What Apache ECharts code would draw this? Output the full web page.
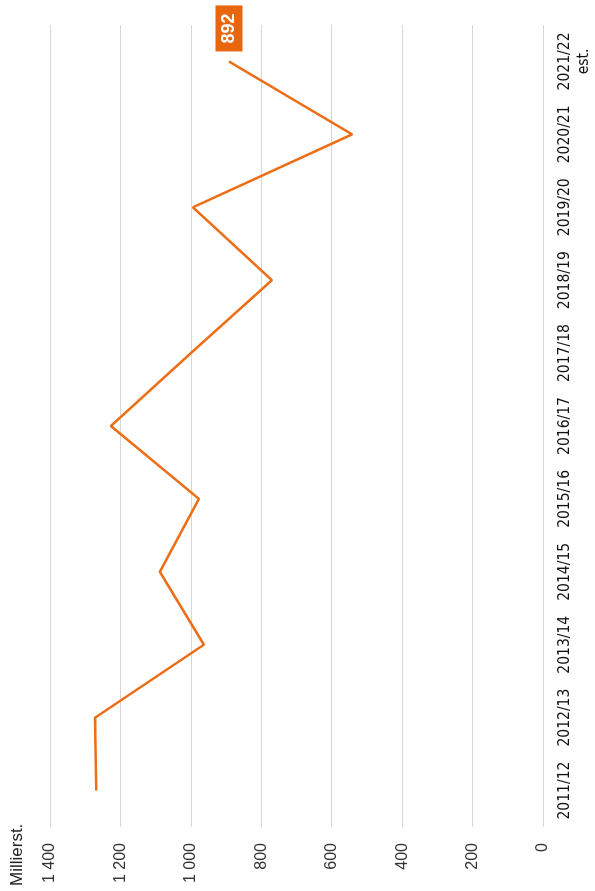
<!DOCTYPE html>
<html>
<head>
<meta charset="utf-8">
<script src="https://cdn.jsdelivr.net/npm/echarts@6/dist/echarts.min.js"></script>
<style>
html,body{margin:0;padding:0;width:595px;height:891px;overflow:hidden;background:#fff;}
#chart{position:absolute;left:0;top:0;width:891px;height:595px;transform-origin:0 0;transform:translateY(891px) rotate(-90deg);}
</style>
</head>
<body>
<div id="chart"></div>
<script>
const categories = ['2011/12','2012/13','2013/14','2014/15','2015/16','2016/17','2017/18','2018/19','2019/20','2020/21','2021/22\nest.'];
const values = [1269, 1272, 963, 1088, 977, 1227, 1000, 770, 994, 542, 892];
const valueTicks = [0, 200, 400, 600, 800, 1000, 1200, 1400];
const unitLabel = 'Millierst.';

const chart = echarts.init(document.getElementById('chart'), null, {renderer: 'canvas'});
const last = values.length - 1;
chart.setOption({
  animation: false,
  grid: {left: 64, right: 25, top: 50, bottom: 52},
  graphic: [{
    type: 'text', left: 5, top: 9,
    style: {text: unitLabel, font: '17px "Liberation Sans", Arial, sans-serif', fill: '#222'}
  }],
  xAxis: {
    type: 'category',
    data: categories,
    boundaryGap: true,
    axisLine: {show: false},
    axisTick: {show: false},
    axisLabel: {
      margin: 12, color: '#111', fontSize: 15.5, lineHeight: 19,
      fontFamily: '"DejaVu Sans Condensed", sans-serif',
      interval: 0
    }
  },
  yAxis: {
    type: 'value',
    min: valueTicks[0], max: valueTicks[valueTicks.length - 1], interval: 200,
    axisLine: {show: false},
    axisTick: {show: false},
    splitLine: {lineStyle: {color: '#d6d6d6', width: 1}},
    axisLabel: {
      margin: 16, color: '#333', fontSize: 16,
      fontFamily: '"Liberation Sans", Arial, sans-serif',
      formatter: v => String(v).replace(/\B(?=(\d{3})+(?!\d))/g, ' ')
    }
  },
  series: [{
    type: 'line',
    data: values.map((v, i) => i === last ? {
      value: v,
      label: {
        show: true, position: 'right', distance: 10,
        backgroundColor: '#E8670E', color: '#fff', fontWeight: 'bold', fontSize: 18,
        fontFamily: '"Liberation Sans", Arial, sans-serif',
        padding: [5, 8, 4, 8]
      }
    } : v),
    showSymbol: true,
    symbol: 'circle',
    symbolSize: 0,
    label: {show: false},
    lineStyle: {color: '#EC6E17', width: 2.5},
    itemStyle: {color: '#EC6E17'}
  }]
});
</script>
</body>
</html>
